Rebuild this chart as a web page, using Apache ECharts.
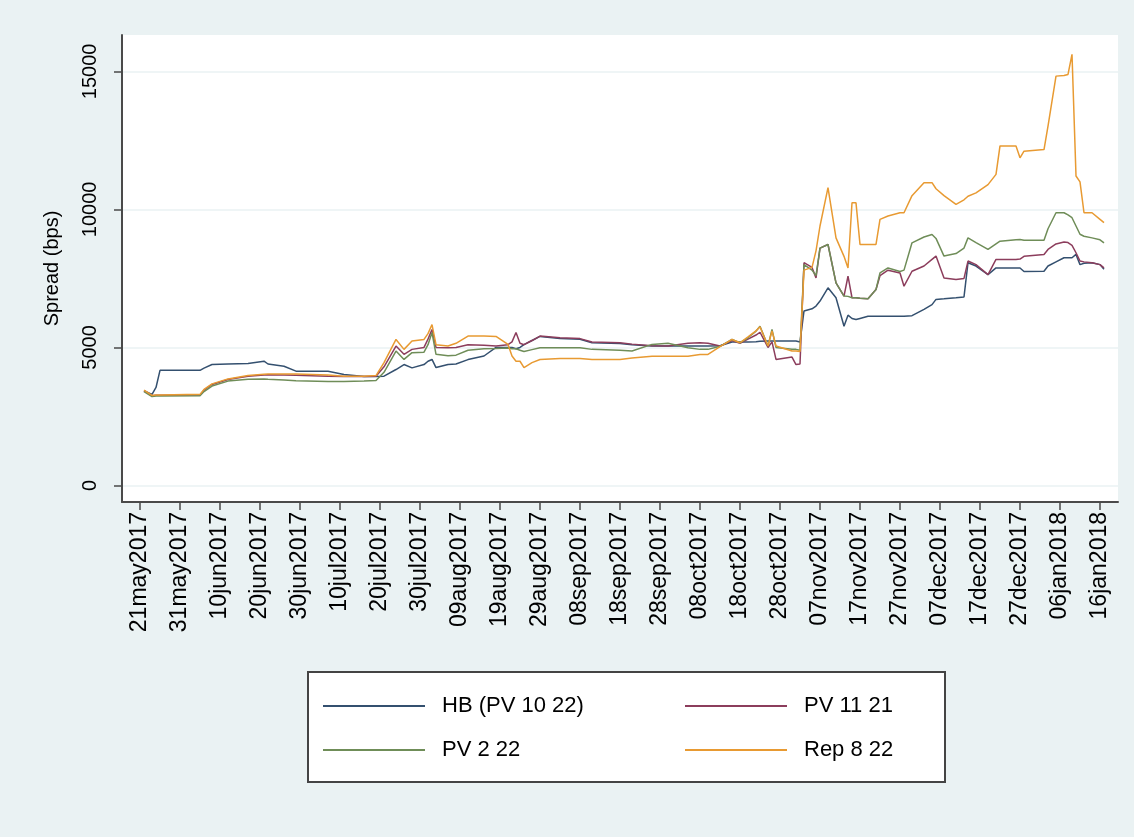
<!DOCTYPE html>
<html>
<head>
<meta charset="utf-8">
<title>Spread (bps)</title>
<script src="https://cdn.jsdelivr.net/npm/echarts@6.0.0/dist/echarts.min.js"></script>
<style>
    html, body { margin: 0; padding: 0; background: #eaf2f3; }
    #main { width: 1134px; height: 837px; }
</style>
</head>
<body>
<div id="main"></div>
<script>
    // days after 21may2017
    const dayOffsets = [
        1, 3, 4, 5, 15, 16, 18, 22, 27, 31,
        32, 36, 39, 47, 51, 56, 59, 61, 64, 66,
        68, 71, 72, 73, 74, 77, 79, 82, 86, 89,
        92, 93, 94, 95, 96, 98, 100, 105, 110, 113,
        120, 123, 128, 132, 137, 140, 142, 145, 148, 150,
        152, 154, 155, 157, 158, 159, 163, 164, 165, 166,
        168, 169, 170, 172, 174, 176, 177, 178, 179, 180,
        182, 184, 185, 187, 190, 191, 193, 196, 198, 199,
        201, 204, 206, 207, 209, 212, 214, 215, 219, 220,
        221, 226, 227, 229, 231, 232, 233, 234, 235, 236,
        238, 240, 241
    ];

    const hbValues = [
        3430, 3300, 3550, 4170, 4170, 4250, 4380, 4400, 4420, 4500,
        4400, 4320, 4140, 4140, 4020, 3950, 3950, 3960, 4200, 4380,
        4260, 4380, 4500, 4565, 4270, 4380, 4400, 4560, 4690, 5000,
        5000, 5000, 4950, 5000, 5100, 5250, 5400, 5320, 5300, 5170,
        5140, 5100, 5050, 5050, 5050, 5050, 5050, 5060, 5200, 5200,
        5200, 5210, 5220, 5230, 5230, 5230, 5230, 5230, 5200, 6320,
        6400, 6500, 6680, 7160, 6800, 5770, 6170, 6050, 6010, 6050,
        6130, 6130, 6130, 6130, 6130, 6130, 6150, 6380, 6550, 6740,
        6760, 6800, 6830, 8070, 7950, 7640, 7880, 7880, 7880, 7880,
        7750, 7760, 7950, 8100, 8250, 8250, 8250, 8370, 8000, 8050,
        8070, 8000, 7830
    ];

    const pv1121Values = [
        3430, 3250, 3270, 3270, 3280, 3450, 3660, 3840, 3960, 4000,
        4010, 4000, 3990, 3960, 3950, 3950, 3960, 4300, 5050, 4750,
        4930, 5000, 5300, 5650, 5000, 4990, 5000, 5100, 5080, 5050,
        5100, 5200, 5540, 5150, 5100, 5250, 5410, 5350, 5320, 5200,
        5170, 5120, 5060, 5050, 5150, 5170, 5150, 5050, 5250, 5150,
        5300, 5450, 5550, 5000, 5200, 4565, 4650, 4380, 4400, 8070,
        7900, 7520, 8600, 8730, 7340, 6860, 7580, 6800, 6800, 6780,
        6760, 7100, 7600, 7800, 7700, 7220, 7760, 7950, 8190, 8310,
        7520, 7460, 7500, 8130, 8000, 7640, 8190, 8190, 8190, 8200,
        8300, 8370, 8550, 8750, 8820, 8800, 8700, 8430, 8130, 8100,
        8070, 8000, 7880
    ];

    const pv222Values = [
        3400, 3220, 3240, 3240, 3250, 3400, 3600, 3780, 3850, 3860,
        3850, 3820, 3790, 3770, 3770, 3780, 3800, 4100, 4870, 4565,
        4810, 4830, 5100, 5540, 4750, 4700, 4720, 4900, 4950, 4960,
        4980, 4950, 4950, 4900, 4850, 4920, 4990, 4990, 4990, 4930,
        4900, 4870, 5110, 5150, 4990, 4930, 4930, 5040, 5290, 5170,
        5350, 5590, 5770, 5050, 5650, 5000, 4930, 4930, 4900, 8000,
        7800, 7600, 8600, 8730, 7340, 6860, 6850, 6800, 6800, 6780,
        6760, 7100, 7700, 7880, 7750, 7800, 8790, 9000, 9090, 8950,
        8310, 8400, 8600, 8970, 8800, 8550, 8750, 8850, 8900, 8910,
        8880, 8880, 9300, 9880, 9880, 9800, 9700, 9400, 9100, 9030,
        8970, 8900, 8790
    ];

    const rep822Values = [
        3450, 3260, 3280, 3280, 3300, 3480, 3680, 3860, 3985, 4030,
        4040, 4040, 4040, 4000, 3960, 3960, 3980, 4450, 5290, 4930,
        5230, 5290, 5500, 5830, 5100, 5050, 5150, 5410, 5410, 5400,
        5110, 4690, 4500, 4500, 4270, 4450, 4565, 4600, 4600, 4565,
        4565, 4620, 4680, 4680, 4680, 4746, 4746, 5030, 5290, 5170,
        5380, 5600, 5750, 5050, 5600, 5050, 4870, 4870, 4850, 7800,
        7900, 8500, 9400, 10790, 8970, 8300, 7880, 10240, 10240, 8730,
        8730, 8730, 9640, 9760, 9880, 9880, 10500, 10970, 10970, 10750,
        10500, 10180, 10350, 10480, 10600, 10900, 11270, 12300, 12300, 11870,
        12110, 12170, 13020, 14830, 14850, 14890, 15620, 11210, 11000, 9880,
        9880, 9640, 9520
    ];

    const tickDays = [0, 10, 20, 30, 40, 50, 60, 70, 80, 90, 100, 110, 120,
        130, 140, 150, 160, 170, 180, 190, 200, 210, 220, 230, 240];
    const tickLabels = ['21may2017', '31may2017', '10jun2017', '20jun2017', '30jun2017',
        '10jul2017', '20jul2017', '30jul2017', '09aug2017', '19aug2017', '29aug2017',
        '08sep2017', '18sep2017', '28sep2017', '08oct2017', '18oct2017', '28oct2017',
        '07nov2017', '17nov2017', '27nov2017', '07dec2017', '17dec2017', '27dec2017',
        '06jan2018', '16jan2018'];
    const yTicks = [0, 5000, 10000, 15000];

    const seriesNames = ['HB (PV 10 22)', 'PV 11 21', 'PV 2 22', 'Rep 8 22'];
    const seriesValues = [hbValues, pv1121Values, pv222Values, rep822Values];

    const font = "'Liberation Sans', Arial, sans-serif";
    const axisColor = '#4a4a4a';

    let option = {
        backgroundColor: '#eaf2f3',
        animation: false,
        color: ['#34506f', '#8c3d5c', '#6f8d58', '#e89a32'],
        textStyle: { fontFamily: font },
        grid: {
            left: 122,
            top: 35,
            right: 16,
            bottom: 335,
            show: true,
            backgroundColor: '#fff',
            borderWidth: 0
        },
        xAxis: {
            type: 'value',
            min: -4.5,
            max: 244.5,
            axisLine: { onZero: false, lineStyle: { color: axisColor, width: 2 } },
            axisTick: { customValues: tickDays, length: 8, lineStyle: { color: axisColor, width: 1.5 } },
            axisLabel: {
                customValues: tickDays,
                rotate: 90,
                margin: 10,
                fontSize: 23,
                color: '#000',
                fontFamily: font,
                formatter: v => tickLabels[tickDays.indexOf(v)]
            },
            splitLine: { show: false }
        },
        yAxis: {
            type: 'value',
            min: -600,
            max: 16320,
            name: 'Spread (bps)',
            nameLocation: 'middle',
            nameGap: 60,
            nameTextStyle: { fontSize: 20, color: '#000', fontFamily: font },
            axisLine: { show: true, onZero: false, lineStyle: { color: axisColor, width: 2 } },
            axisTick: { show: true, customValues: yTicks, length: 8, lineStyle: { color: axisColor, width: 1.5 } },
            axisLabel: {
                customValues: yTicks,
                rotate: 90,
                margin: 22,
                fontSize: 20,
                color: '#000',
                fontFamily: font,
                formatter: v => String(v)
            },
            splitLine: { show: true, lineStyle: { color: '#eaf2f3', width: 1.5 } }
        },
        graphic: [{
            type: 'rect',
            z: 0,
            shape: { x: 308, y: 672, width: 637, height: 110 },
            style: { fill: '#fff', stroke: '#444', lineWidth: 2 }
        }],
        legend: [{
            data: [seriesNames[0], seriesNames[2]],
            orient: 'vertical',
            left: 318,
            top: 690,
            itemGap: 22,
            icon: 'rect',
            itemWidth: 102,
            itemHeight: 2,
            selectedMode: false,
            textStyle: { fontSize: 22, color: '#000', fontFamily: font, padding: [0, 0, 0, 12] }
        }, {
            data: [seriesNames[1], seriesNames[3]],
            orient: 'vertical',
            left: 680,
            top: 690,
            itemGap: 22,
            icon: 'rect',
            itemWidth: 102,
            itemHeight: 2,
            selectedMode: false,
            textStyle: { fontSize: 22, color: '#000', fontFamily: font, padding: [0, 0, 0, 12] }
        }],
        series: seriesNames.map((name, k) => ({
            name: name,
            type: 'line',
            symbol: 'none',
            lineStyle: { width: 1.5 },
            data: dayOffsets.map((d, i) => [d, seriesValues[k][i]])
        }))
    };

    const myChart = echarts.init(document.getElementById('main'));
    myChart.setOption(option);
</script>
</body>
</html>
